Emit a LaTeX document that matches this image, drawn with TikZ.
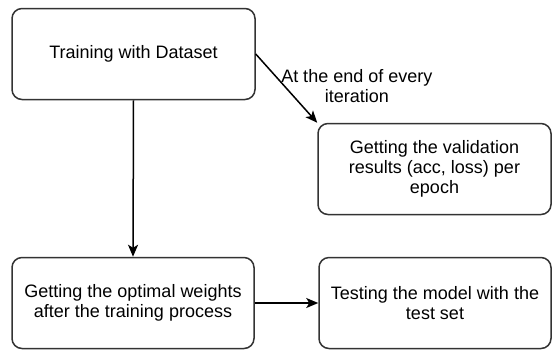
\documentclass[tikz,border=0pt]{standalone}
\usepackage{fontspec}
\setmainfont{Liberation Sans}
\usetikzlibrary{arrows.meta,positioning}

\begin{document}
\begin{tikzpicture}[x=0.5pt,y=-0.5pt,
  box/.style={draw=black!80, line width=0.75pt, rounded corners=5pt,
    minimum width=121pt, minimum height=45.5pt, align=center,
    font=\fontsize{9}{10}\selectfont},
  link/.style={-{Stealth[length=6pt,width=5pt,inset=1.5pt]}, line width=0.75pt}]
\useasboundingbox (0,0) rectangle (552,350);

% Training stage
\node[box, minimum width=121.5pt] (train) at (133.5,54) {Training with Dataset};
\node[box, minimum width=116.5pt] (valid) at (434.5,169) {Getting the validation\\results (acc, loss) per\\epoch};

% After training
\node[box] (weights) at (133,303) {Getting the optimal weights\\after the training process};
\node[box, minimum width=116pt] (test) at (435,303) {Testing the model with the\\test set};

% Connections
\draw[link] (train.east) -- (valid.north west)
  node[midway, anchor=west, align=center, inner sep=0pt, xshift=-3pt, yshift=1pt,
    font=\fontsize{9}{10}\selectfont] (iter) {At the end of every\\iteration};
\draw[link] (train.south) -- (weights.north);
\draw[link] (weights.east) -- (test.west);

\end{tikzpicture}
\end{document}
